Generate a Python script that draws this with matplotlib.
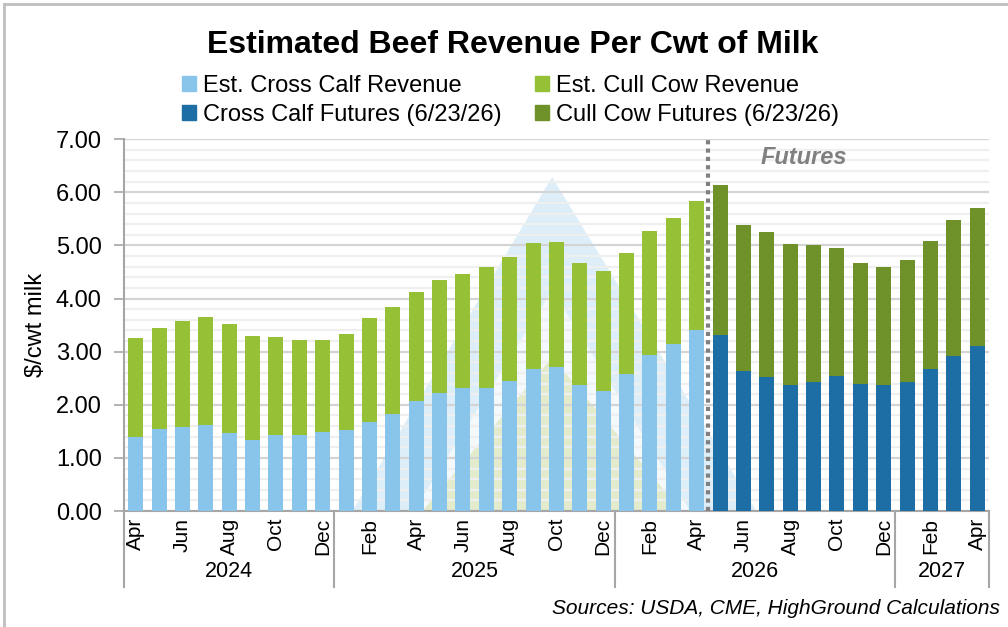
import numpy as np
import matplotlib
matplotlib.use("Agg")
import matplotlib.pyplot as plt
from matplotlib.patches import Patch, Polygon
from matplotlib.lines import Line2D

plt.rcParams['font.family'] = ['Liberation Sans', 'DejaVu Sans']

# months Apr 2024 .. Apr 2027
month_names = ["Jan", "Feb", "Mar", "Apr", "May", "Jun", "Jul", "Aug", "Sep", "Oct", "Nov", "Dec"]
start_year, start_month = 2024, 4
n_months = 37

# estimated (historical) Apr 2024 - Apr 2026
calf_est = [1.39, 1.54, 1.59, 1.61, 1.47, 1.34, 1.44, 1.43, 1.48,
            1.52, 1.68, 1.83, 2.07, 2.22, 2.31, 2.31, 2.45, 2.68, 2.72, 2.37, 2.26,
            2.58, 2.93, 3.14, 3.41]
cull_est = [1.86, 1.90, 1.99, 2.05, 2.05, 1.95, 1.84, 1.79, 1.74,
            1.81, 1.95, 2.02, 2.05, 2.12, 2.16, 2.28, 2.33, 2.36, 2.34, 2.30, 2.26,
            2.28, 2.34, 2.37, 2.42]
# futures May 2026 - Apr 2027
calf_fut = [3.32, 2.64, 2.53, 2.37, 2.42, 2.55, 2.40, 2.38, 2.43, 2.68, 2.91, 3.11]
cull_fut = [2.81, 2.75, 2.72, 2.66, 2.58, 2.40, 2.27, 2.22, 2.30, 2.41, 2.57, 2.60]

c_calf = "#89C4EB"
c_cull = "#96C136"
c_calf_f = "#1C6EA4"
c_cull_f = "#6F912A"

months = [(start_month - 1 + i) % 12 for i in range(n_months)]
years = [start_year + (start_month - 1 + i) // 12 for i in range(n_months)]

fig = plt.figure(figsize=(10.08, 6.27), dpi=100)
ax = fig.add_axes([0.123, 0.185, 0.858, 0.593])

x_est = np.arange(len(calf_est))
x_fut = np.arange(len(calf_est), n_months)
w = 0.64

ax.bar(x_est, calf_est, w, color=c_calf, zorder=3)
ax.bar(x_est, cull_est, w, bottom=calf_est, color=c_cull, zorder=3)
ax.bar(x_fut, calf_fut, w, color=c_calf_f, zorder=3)
ax.bar(x_fut, cull_fut, w, bottom=calf_fut, color=c_cull_f, zorder=3)

# faint logo watermark behind the bars
ax.add_patch(Polygon([[0.495, 0.898], [0.264, 0.0], [0.731, 0.0]], closed=True,
                     transform=ax.transAxes, facecolor="#DDEEF9", edgecolor="none", zorder=0.1))
ax.add_patch(Polygon([[0.495, 0.594], [0.335, 0.0], [0.655, 0.0]], closed=True,
                     transform=ax.transAxes, facecolor="#F4F9FD", edgecolor="none", zorder=0.2))
ax.add_patch(Polygon([[0.495, 0.414], [0.345, 0.0], [0.645, 0.0]], closed=True,
                     transform=ax.transAxes, facecolor="#E3EBCD", edgecolor="none", zorder=0.3))

ax.set_xlim(-0.5, n_months - 0.5)
ax.set_ylim(0, 7)
ax.set_yticks(np.arange(0, 7.01, 1))
ax.set_yticklabels([f"{v:.2f}" for v in np.arange(0, 7.01, 1)], fontsize=17)
ax.set_yticks(np.arange(0, 7.01, 0.2), minor=True)
ax.grid(axis="y", which="major", color="#D4D4D4", linewidth=1.6, zorder=0.5)
ax.grid(axis="y", which="minor", color="#EFEFEF", linewidth=1.6, zorder=0.5)
ax.tick_params(axis="y", which="major", length=7, width=1.2, color="#A6A6A6", pad=9)
ax.tick_params(axis="y", which="minor", length=0)
ax.set_ylabel("$/cwt milk", fontsize=17, labelpad=6)

ax.set_xticks(np.arange(0, n_months, 2))
ax.set_xticklabels([month_names[months[i]] for i in range(0, n_months, 2)],
                   rotation=90, fontsize=15)
ax.tick_params(axis="x", length=0, pad=5)

for s in ["top", "right"]:
    ax.spines[s].set_visible(False)
for s in ["left", "bottom"]:
    ax.spines[s].set_color("#A6A6A6")
    ax.spines[s].set_linewidth(1.5)

# year group separators and labels
bounds = [-0.5] + [i - 0.5 for i in range(1, n_months) if months[i] == 0] + [n_months - 0.5]
xt = ax.get_xaxis_transform()
for b in bounds:
    ax.add_line(Line2D([b, b], [0, -0.204], transform=xt, color="#A6A6A6",
                       linewidth=1.5, clip_on=False))
for a, b in zip(bounds[:-1], bounds[1:]):
    yr = years[int(a + 1)]
    ax.text((a + b) / 2, -0.164, str(yr), transform=xt, ha="center", va="center", fontsize=15.5)

# futures divider
ax.axvline(len(calf_est) - 0.5, color="#808080", linestyle=(0, (1, 1)), linewidth=3, zorder=4)
ax.text(28.6, 6.66, "Futures", fontsize=17, fontweight="bold", style="italic",
        color="#808080", ha="center", va="center")

fig.text(0.509, 0.928, "Estimated Beef Revenue Per Cwt of Milk", fontsize=23,
         fontweight="bold", ha="center", va="center")

handles = [Patch(color=c_calf), Patch(color=c_calf_f), Patch(color=c_cull), Patch(color=c_cull_f)]
labels = ["Est. Cross Calf Revenue", "Cross Calf Futures (6/23/26)",
          "Est. Cull Cow Revenue", "Cull Cow Futures (6/23/26)"]
fig.legend(handles, labels, ncol=2, loc="upper left", bbox_to_anchor=(0.169, 0.9),
           frameon=False, fontsize=17, handlelength=0.6, handleheight=0.6,
           handletextpad=0.3, columnspacing=1.4, labelspacing=0.3, borderpad=0)

fig.text(0.992, 0.03, "Sources: USDA, CME, HighGround Calculations", fontsize=15,
         style="italic", ha="right", va="center")

# chart frame
fig.add_artist(Line2D([0.004, 0.004], [0, 0.994], color="#BFBFBF", linewidth=2))
fig.add_artist(Line2D([0.004, 1], [0.994, 0.994], color="#BFBFBF", linewidth=2))

fig.savefig("out.png", dpi=100)
